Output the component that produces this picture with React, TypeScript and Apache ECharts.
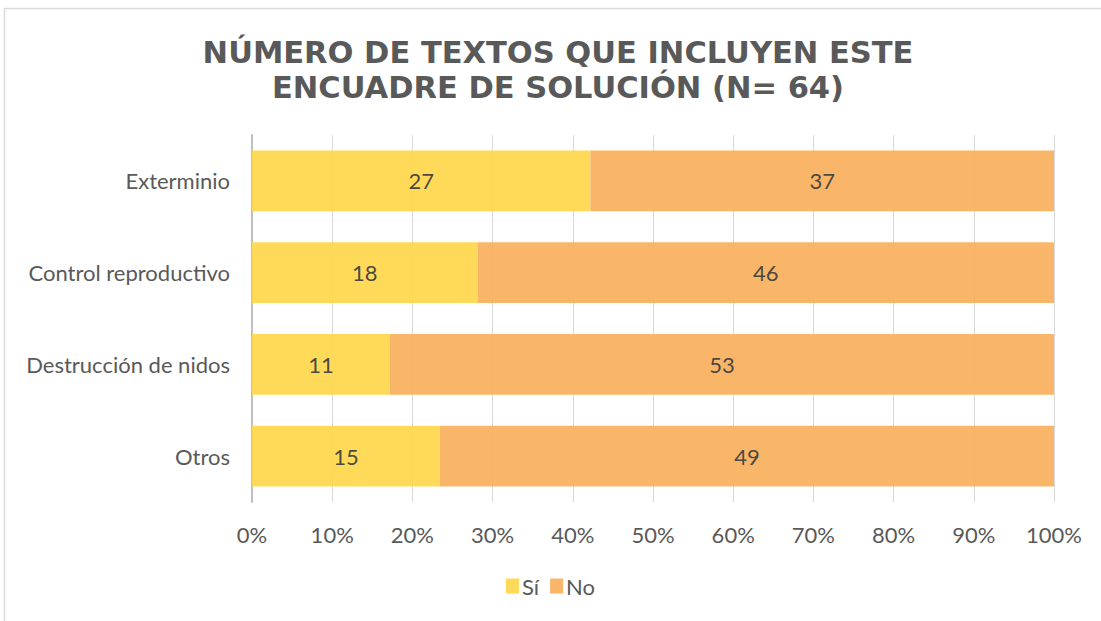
import React, { useEffect, useRef } from "react";
import * as echarts from "echarts";

const categories = ["Exterminio", "Control reproductivo", "Destrucción de nidos", "Otros"];
const siValues = [27, 18, 11, 15];
const noValues = [37, 46, 53, 49];
const xTicks = [0, 10, 20, 30, 40, 50, 60, 70, 80, 90, 100];
const titleLines = ["NÚMERO DE TEXTOS QUE INCLUYEN ESTE", "ENCUADRE DE SOLUCIÓN (N= 64)"];

export default function App() {
  const ref = useRef<HTMLDivElement>(null);
  useEffect(() => {
    if (!ref.current) return;
    const chart = echarts.init(ref.current, null, { renderer: "svg" });
    const totals = siValues.map((v, i) => v + noValues[i]);
    const cats = [...categories].reverse();
    const si = siValues.map((v, i) => ({ value: (v / totals[i]) * 100, raw: v })).reverse();
    const no = noValues.map((v, i) => ({ value: (v / totals[i]) * 100, raw: v })).reverse();
    const font = "Lato";
    chart.setOption({
      animation: false,
      backgroundColor: "#ffffff",
      title: {
        text: titleLines.join("\n"),
        left: 553,
        textAlign: "center",
        top: 30,
        textStyle: {
          fontFamily: "DejaVu Sans",
          fontWeight: "bold",
          fontSize: 30.5,
          color: "#595959",
          lineHeight: 35,
        },
      },
      legend: {
        bottom: 19,
        left: "center",
        itemWidth: 13,
        itemHeight: 15,
        itemGap: 11,
        icon: "rect",
        textStyle: { fontFamily: font, fontSize: 22, color: "#595959", padding: [0, 0, 0, -2] },
        data: ["Sí", "No"],
      },
      grid: { left: 252, right: 47, top: 135, bottom: 119, containLabel: false },
      xAxis: {
        type: "value",
        min: 0,
        max: 100,
        interval: 10,
        axisLabel: {
          formatter: (v: number) => (xTicks.includes(v) ? v + "%" : ""),
          fontFamily: font,
          fontSize: 22,
          color: "#595959",
          margin: 21,
        },
        axisLine: { show: false },
        axisTick: { show: false },
        splitLine: { lineStyle: { color: "#d9d9d9", width: 1 } },
      },
      yAxis: {
        type: "category",
        data: cats,
        axisLine: { show: true, lineStyle: { color: "#bfbfbf", width: 2 } },
        axisTick: { show: false },
        axisLabel: { fontFamily: font, fontSize: 22, color: "#595959", margin: 22 },
      },
      series: [
        {
          name: "Sí",
          type: "bar",
          stack: "total",
          barCategoryGap: "34%",
          data: si,
          itemStyle: { color: "#FFD84F", opacity: 0.95 },
          label: {
            show: true,
            position: "inside",
            formatter: (p: any) => String(p.data.raw),
            fontFamily: font,
            fontSize: 22,
            color: "#404040",
          },
        },
        {
          name: "No",
          type: "bar",
          stack: "total",
          barCategoryGap: "34%",
          data: no,
          itemStyle: { color: "#F9B160", opacity: 0.95 },
          label: {
            show: true,
            position: "inside",
            formatter: (p: any) => String(p.data.raw),
            fontFamily: font,
            fontSize: 22,
            color: "#404040",
          },
        },
      ],
      graphic: [
        {
          type: "rect",
          shape: { x: 4.5, y: 8.5, width: 1200, height: 700 },
          style: { fill: "none", stroke: "#d9d9d9", lineWidth: 1.5 },
          silent: true,
          z: -1,
        },
      ],
    });
    return () => chart.dispose();
  }, []);
  return <div ref={ref} style={{ width: 1101, height: 621, position: "absolute", left: 0, top: 0 }} />;
}
